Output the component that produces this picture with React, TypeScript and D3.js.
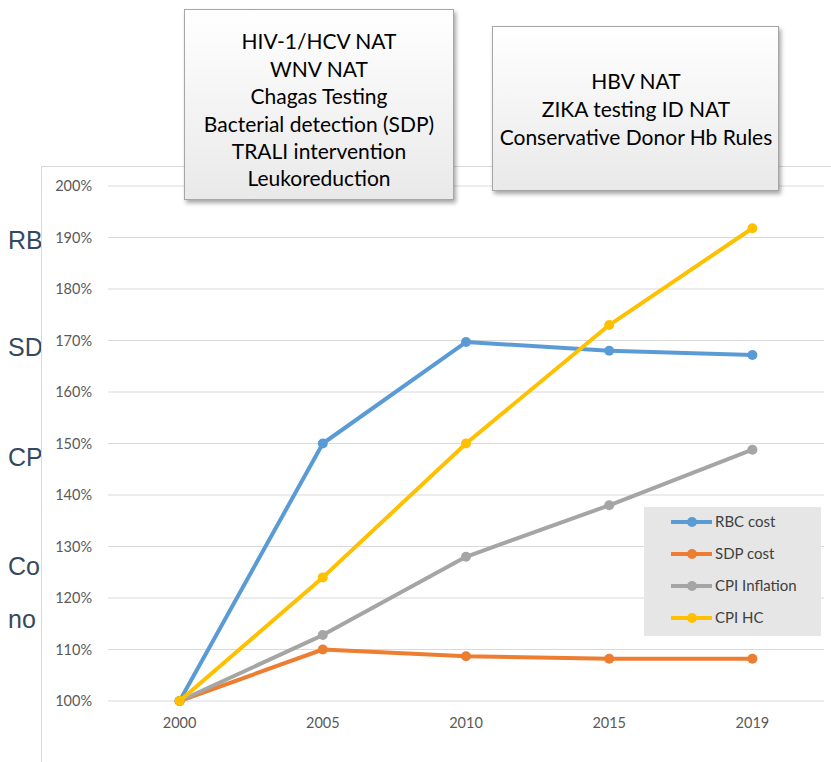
import * as d3 from "d3";

const years = ["2000", "2005", "2010", "2015", "2019"];
const rbcCost = [100, 150, 169.7, 168, 167.2];
const sdpCost = [100, 110, 108.7, 108.2, 108.2];
const cpiInflation = [100, 112.8, 128, 138, 148.8];
const cpiHc = [100, 124, 150, 173, 191.8];
const yTicks = [100, 110, 120, 130, 140, 150, 160, 170, 180, 190, 200];

const seriesNames = ["RBC cost", "SDP cost", "CPI Inflation", "CPI HC"];
const seriesColors = ["#5B9BD5", "#ED7D31", "#A5A5A5", "#FFC000"];
const seriesValues = [rbcCost, sdpCost, cpiInflation, cpiHc];

const box1Lines = [
  "HIV-1/HCV NAT",
  "WNV NAT",
  "Chagas Testing",
  "Bacterial detection (SDP)",
  "TRALI intervention",
  "Leukoreduction",
];
const box2Lines = ["HBV NAT", "ZIKA testing ID NAT", "Conservative Donor Hb Rules"];
// only the left edge of the slide's bullet text peeks out from behind the chart
const slideWords = ["RB", "SD", "CP", "Co", "no"];

const W = 831;
const H = 762;
const font = "Lato, 'Open Sans', sans-serif";

export default function App() {
  const x = d3.scalePoint<string>().domain(years).range([108, 824]).padding(0.5);
  const y = d3.scaleLinear().domain([100, 200]).range([701, 186]);

  const line = d3
    .line<number>()
    .x((_, i) => x(years[i]) as number)
    .y((d) => y(d));

  // draw order in the picture: orange/grey below, blue, yellow on top
  const order = [1, 2, 0, 3];

  const slideY = [249, 356, 466, 575, 628];
  const slideSize = [25, 25, 25, 25, 25];

  return (
    <svg
      width={W}
      height={H}
      style={{ position: "absolute", left: 0, top: 0, background: "#fff" }}
    >
      <defs>
        <linearGradient id="boxGrad" x1="0" y1="0" x2="0" y2="1">
          <stop offset="0%" stopColor="#ffffff" />
          <stop offset="100%" stopColor="#e9e9e9" />
        </linearGradient>
        <filter id="shadow" x="-10%" y="-10%" width="130%" height="130%">
          <feDropShadow dx="2" dy="3" stdDeviation="2" floodColor="#000" floodOpacity="0.35" />
        </filter>
        <clipPath id="slideClip">
          <rect x={0} y={0} width={41} height={H} />
        </clipPath>
      </defs>

      {/* slide text behind the chart panel */}
      <g clipPath="url(#slideClip)">
        {slideWords.map((w, i) => (
          <text
            key={w}
            x={8}
            y={slideY[i]}
            fontFamily="'Liberation Sans', Arial, sans-serif"
            fontSize={slideSize[i]}
            fill="#34495e"
          >
            {w}
          </text>
        ))}
      </g>

      {/* chart panel */}
      <rect x={41.5} y={166.5} width={W} height={H} fill="#fff" stroke="#d9d9d9" />

      {/* gridlines */}
      {yTicks.map((t) => (
        <line key={t} x1={108} x2={824} y1={y(t)} y2={y(t)} stroke="#d9d9d9" strokeWidth={1.2} />
      ))}
      {yTicks.map((t) => (
        <text
          key={"l" + t}
          x={92}
          y={y(t)}
          dy="0.35em"
          textAnchor="end"
          fontFamily={font}
          fontSize={14.5}
          fill="#595959"
        >
          {t}%
        </text>
      ))}
      {years.map((yr) => (
        <text
          key={yr}
          x={x(yr)}
          y={728}
          textAnchor="middle"
          fontFamily={font}
          fontSize={14.5}
          fill="#595959"
        >
          {yr}
        </text>
      ))}

      {/* series */}
      {order.map((si) => (
        <g key={seriesNames[si]}>
          <path
            d={line(seriesValues[si]) || ""}
            fill="none"
            stroke={seriesColors[si]}
            strokeWidth={4}
            strokeLinejoin="round"
          />
          {seriesValues[si].map((v, i) => (
            <circle key={i} cx={x(years[i])} cy={y(v)} r={5} fill={seriesColors[si]} />
          ))}
        </g>
      ))}

      {/* legend */}
      <rect x={644} y={507} width={177} height={129} fill="#e6e6e6" />
      {seriesNames.map((n, i) => {
        const ly = 522 + i * 32;
        return (
          <g key={n}>
            <line x1={671} x2={712} y1={ly} y2={ly} stroke={seriesColors[i]} strokeWidth={4} />
            <circle cx={692} cy={ly} r={5} fill={seriesColors[i]} />
            <text x={715} y={ly} dy="0.35em" fontFamily={font} fontSize={15} fill="#404040">
              {n}
            </text>
          </g>
        );
      })}

      {/* annotation boxes */}
      <rect
        x={184.5}
        y={9.5}
        width={269}
        height={190}
        fill="url(#boxGrad)"
        stroke="#a6a6a6"
        filter="url(#shadow)"
      />
      {box1Lines.map((t, i) => (
        <text
          key={t}
          x={319}
          y={42 + i * 27.4}
          dy="0.35em"
          textAnchor="middle"
          fontFamily={font}
          fontSize={21}
          fill="#000"
        >
          {t}
        </text>
      ))}
      <rect
        x={492.5}
        y={26.5}
        width={286}
        height={164}
        fill="url(#boxGrad)"
        stroke="#a6a6a6"
        filter="url(#shadow)"
      />
      {box2Lines.map((t, i) => (
        <text
          key={t}
          x={636}
          y={82 + i * 28}
          dy="0.35em"
          textAnchor="middle"
          fontFamily={font}
          fontSize={21}
          fill="#000"
        >
          {t}
        </text>
      ))}
    </svg>
  );
}
